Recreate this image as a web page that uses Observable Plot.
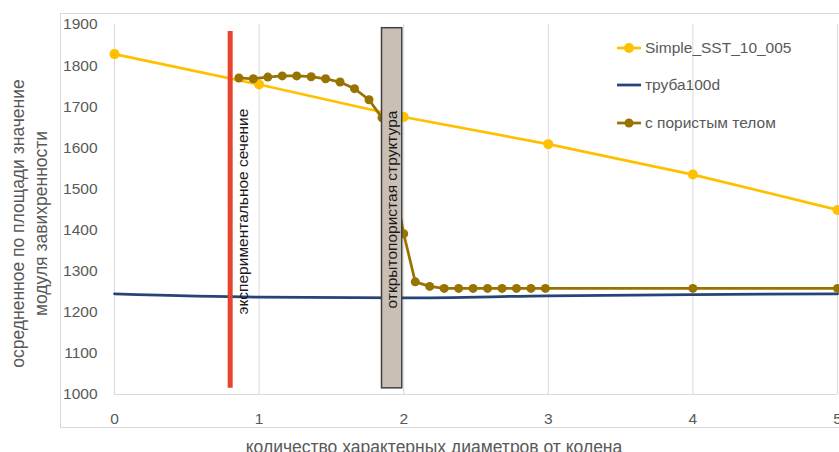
<!DOCTYPE html>
<html>
<head>
<meta charset="utf-8">
<script src="https://cdn.jsdelivr.net/npm/d3@7"></script>
<script src="https://cdn.jsdelivr.net/npm/@observablehq/plot@0.6"></script>
<style>
  html, body { margin: 0; padding: 0; background: #fff; }
  body { width: 839px; height: 452px; overflow: hidden; position: relative; font-family: "Liberation Sans", Arial, sans-serif; }
  #frame { position: absolute; left: 60px; top: 13px; width: 820px; height: 415px; border: 1px solid #d9d9d9; box-sizing: border-box; }
  #chart { position: absolute; left: 0; top: 0; }
  #legend { position: absolute; left: 617px; top: 29px; font-size: 15.5px; color: #595959; }
  .item { display: flex; align-items: center; height: 37.5px; }
  .item svg { margin-right: 4px; }
</style>
</head>
<body>
<div id="frame"></div>
<div id="chart"></div>
<div id="legend"></div>
<script>
// X positions (number of characteristic diameters from the elbow)
const sstX = [0, 1, 2, 3, 4, 5];
const sstY = [1828, 1754, 1675, 1609, 1535, 1449];

const pipeX = [0, 1, 2, 3, 4, 5];
const pipeY = [1245, 1237, 1235, 1240, 1243, 1245];

const porousX = [0.86, 0.96, 1.06, 1.16, 1.26, 1.36, 1.46, 1.56, 1.66, 1.76, 1.85,
                 2.0, 2.08, 2.18, 2.28, 2.38, 2.48, 2.58, 2.68, 2.78, 2.88, 2.98, 4, 5];
const porousY = [1770, 1768, 1772, 1775, 1775, 1773, 1768, 1760, 1744, 1717, 1673,
                 1391, 1274, 1263, 1258, 1258, 1258, 1258, 1258, 1258, 1258, 1258, 1258, 1258];

const seriesNames = ["Simple_SST_10_005", "труба100d", "с пористым телом"];
const seriesColors = ["#FFC000", "#264478", "#997300"];

const xTicks = [0, 1, 2, 3, 4, 5];
const yTicks = [1000, 1100, 1200, 1300, 1400, 1500, 1600, 1700, 1800, 1900];

// Annotations
const sectionX = 0.8, sectionY1 = 1015, sectionY2 = 1883;
const sectionLabel = "экспериментальное сечение";
const porousZone = {x1: 1.85, x2: 1.99, y1: 1015, y2: 1891};
const porousLabel = "открытопористая структура";

const xTitle = "количество характерных диаметров от колена";
const yTitle1 = "осредненное по площади значение";
const yTitle2 = "модуля завихренности";

const sst = sstX.map((x, i) => ({x, y: sstY[i]}));
const pipe = pipeX.map((x, i) => ({x, y: pipeY[i]}));
const porous = porousX.map((x, i) => ({x, y: porousY[i]}));

const chart = Plot.plot({
  width: 839,
  height: 452,
  marginLeft: 114,
  marginRight: 2,
  marginTop: 24,
  marginBottom: 58,
  style: {fontFamily: "'Liberation Sans', Arial, sans-serif", fontSize: "15.5px", color: "#595959", background: "transparent", overflow: "visible"},
  x: {domain: [0, 5], ticks: xTicks, tickSize: 0, tickPadding: 18, tickFormat: d3.format("d"), label: null},
  y: {domain: [1000, 1900], ticks: yTicks, tickSize: 0, tickPadding: 17, tickFormat: d3.format("d"), label: null},
  marks: [
    Plot.ruleX(xTicks, {stroke: "#d9d9d9", strokeWidth: 1}),
    Plot.ruleY([1000], {stroke: "#d9d9d9", strokeWidth: 1}),
    Plot.line(sst, {x: "x", y: "y", stroke: seriesColors[0], strokeWidth: 2.75}),
    Plot.dot(sst, {x: "x", y: "y", r: 5, fill: seriesColors[0]}),
    Plot.line(pipe, {x: "x", y: "y", stroke: seriesColors[1], strokeWidth: 2.75, curve: "monotone-x"}),
    Plot.line(porous, {x: "x", y: "y", stroke: seriesColors[2], strokeWidth: 2.75}),
    Plot.dot(porous, {x: "x", y: "y", r: 4.5, fill: seriesColors[2]}),
    Plot.ruleX([sectionX], {y1: sectionY1, y2: sectionY2, stroke: "#E8432F", strokeWidth: 5}),
    Plot.rect([porousZone], {x1: "x1", x2: "x2", y1: "y1", y2: "y2", fill: "#C9BFB5", stroke: "#404040", strokeWidth: 1.5}),
    Plot.text([sectionLabel], {x: sectionX, y: 1445, text: d => d, rotate: -90, dx: 13, fill: "#1a1a1a", fontSize: 15.5}),
    Plot.text([porousLabel], {x: (porousZone.x1 + porousZone.x2) / 2, y: 1450, text: d => d, rotate: -90, fill: "#1a1a1a", fontSize: 15.5}),
    Plot.text([xTitle], {frameAnchor: "bottom", textAnchor: "middle", dx: -42, dy: 58, text: d => d, fill: "#595959", fontSize: 17.5}),
    Plot.text([yTitle1], {frameAnchor: "left", textAnchor: "middle", dx: -96, dy: 14, rotate: -90, text: d => d, fill: "#595959", fontSize: 17.5}),
    Plot.text([yTitle2], {frameAnchor: "left", textAnchor: "middle", dx: -73, dy: 14, rotate: -90, text: d => d, fill: "#595959", fontSize: 17.5})
  ]
});
document.getElementById("chart").appendChild(chart);

// Legend
const legend = document.getElementById("legend");
const markers = [true, false, true];
const radii = [5, 0, 4.5];
seriesNames.forEach((name, i) => {
  const item = document.createElement("div");
  item.className = "item";
  const ns = "http://www.w3.org/2000/svg";
  const svg = document.createElementNS(ns, "svg");
  svg.setAttribute("width", 24); svg.setAttribute("height", 12);
  const ln = document.createElementNS(ns, "line");
  ln.setAttribute("x1", 0); ln.setAttribute("x2", 24); ln.setAttribute("y1", 6); ln.setAttribute("y2", 6);
  ln.setAttribute("stroke", seriesColors[i]); ln.setAttribute("stroke-width", 2.75);
  svg.appendChild(ln);
  if (markers[i]) {
    const c = document.createElementNS(ns, "circle");
    c.setAttribute("cx", 12); c.setAttribute("cy", 6); c.setAttribute("r", radii[i]);
    c.setAttribute("fill", seriesColors[i]);
    svg.appendChild(c);
  }
  item.appendChild(svg);
  const t = document.createElement("span");
  t.textContent = name;
  item.appendChild(t);
  legend.appendChild(item);
});
</script>
</body>
</html>
